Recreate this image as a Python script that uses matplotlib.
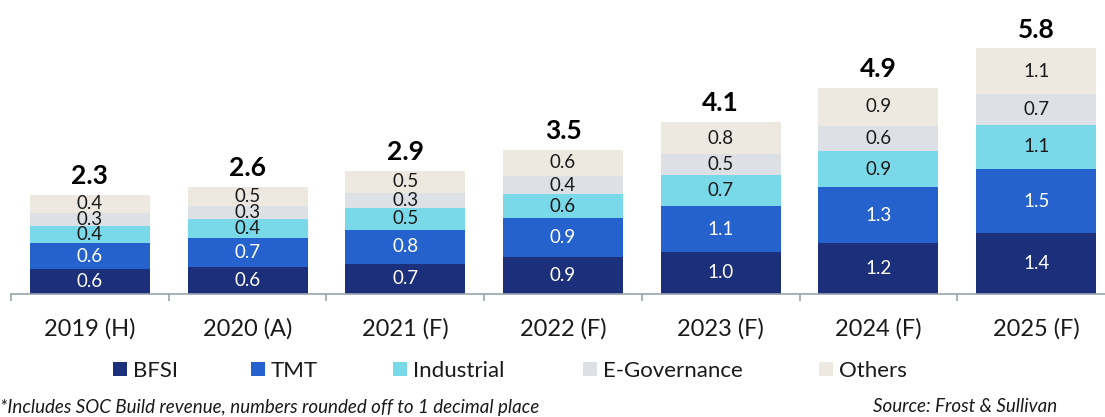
import matplotlib
matplotlib.use('Agg')
import matplotlib.pyplot as plt
from matplotlib.patches import Patch
import numpy as np

plt.rcParams['font.family'] = ['Lato', 'DejaVu Sans']

# values (bar heights, labels rounded to 1 decimal)
years = ['2019 (H)', '2020 (A)', '2021 (F)', '2022 (F)', '2023 (F)', '2024 (F)', '2025 (F)']
bfsi = [0.58, 0.62, 0.71, 0.86, 0.98, 1.19, 1.43]
tmt = [0.61, 0.71, 0.81, 0.93, 1.10, 1.33, 1.52]
industrial = [0.42, 0.43, 0.52, 0.57, 0.74, 0.87, 1.06]
egov = [0.31, 0.32, 0.34, 0.43, 0.49, 0.60, 0.72]
others = [0.42, 0.46, 0.54, 0.63, 0.76, 0.89, 1.09]
totals = [2.3, 2.6, 2.9, 3.5, 4.1, 4.9, 5.8]

series = [('BFSI', bfsi, '#1b2f7a', 'white'),
          ('TMT', tmt, '#2562cd', 'white'),
          ('Industrial', industrial, '#7ad9e9', '#1a1a1a'),
          ('E-Governance', egov, '#dde1e6', '#1a1a1a'),
          ('Others', others, '#ede9e1', '#1a1a1a')]

W, H = 1105, 417
fig = plt.figure(figsize=(W / 100, H / 100), dpi=100)
base = 293.5
ax = fig.add_axes([11 / W, (H - base) / H, 1104 / W, base / H])

x = np.arange(len(years))
bottom = np.zeros(len(years))
bars = None
for name, vals, col, tcol in series:
    bars = ax.bar(x, vals, 0.76, bottom=bottom, color=col, label=name)
    ax.bar_label(bars, fmt='{:.1f}', label_type='center', color=tcol, fontsize=13.5)
    bottom += np.array(vals)

ax.bar_label(bars, labels=[f'{t:.1f}' for t in totals], padding=5,
             fontsize=19, fontweight='bold', color='black')

ax.set_xlim(-0.5, 6.5)
ax.set_ylim(0, base / 42.1)
for s in ['left', 'top', 'right']:
    ax.spines[s].set_visible(False)
ax.spines['bottom'].set_color('#9aa3ad')
ax.spines['bottom'].set_linewidth(1.2)
ax.set_yticks([])
ax.set_xticks(x, years)
ax.set_xticks(np.arange(-0.5, 7, 1), minor=True)
ax.tick_params(axis='x', which='major', length=0, pad=18, labelsize=17, labelcolor='#1a1a1a')
ax.tick_params(axis='x', which='minor', length=5, width=1.2, color='#9aa3ad', direction='out')

# legend entries placed like the original
leg_x = [113, 251, 393, 583, 819]
for (name, vals, col, tcol), lx in zip(series, leg_x):
    fig.legend(handles=[Patch(facecolor=col, edgecolor='none', label=name)],
               loc='center left', bbox_to_anchor=(lx / W, (H - 371) / H),
               frameon=False, fontsize=16, handlelength=0.63, handleheight=0.63,
               handletextpad=0.25, borderpad=0, borderaxespad=0, labelcolor='#1a1a1a')

fig.text(0.0, (H - 407) / H, '*Includes SOC Build revenue, numbers rounded off to 1 decimal place',
         fontsize=13.5, style='italic', va='center', ha='left', color='#1a1a1a')
fig.text(873 / W, (H - 407) / H, 'Source: Frost & Sullivan',
         fontsize=13.5, style='italic', va='center', ha='left', color='#1a1a1a')

fig.savefig('out.png', dpi=100)
